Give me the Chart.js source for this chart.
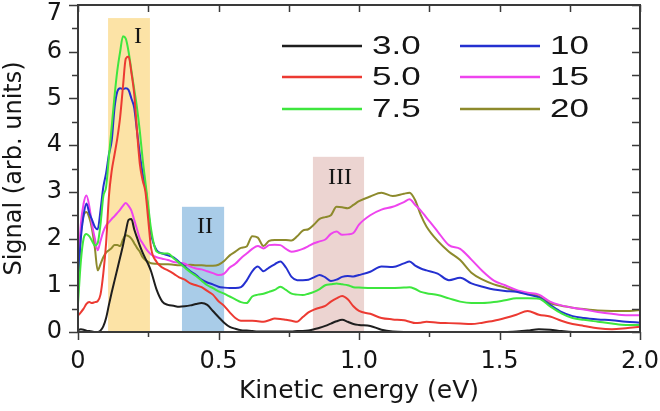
<!DOCTYPE html>
<html>
<head>
<meta charset="utf-8">
<script src="https://cdn.jsdelivr.net/npm/chart.js@4.4.1/dist/chart.umd.min.js"></script>
<style>
  html, body { margin: 0; padding: 0; background: #fff; }
</style>
</head>
<body>
<canvas id="chart" width="660" height="411"></canvas>
<script>
// Kinetic energy grid (eV), shared by all series
const energy = [
  0, 0.01, 0.02, 0.03, 0.04, 0.05, 0.06, 0.07, 0.08, 0.09,
  0.10, 0.11, 0.12, 0.13, 0.14, 0.15, 0.16, 0.17, 0.18, 0.19,
  0.20, 0.21, 0.22, 0.23, 0.24, 0.25, 0.26, 0.28, 0.30, 0.32,
  0.34, 0.36, 0.38, 0.40, 0.42, 0.44, 0.46, 0.48, 0.50, 0.52,
  0.54, 0.56, 0.58, 0.60, 0.62, 0.64, 0.66, 0.68, 0.70, 0.72,
  0.74, 0.76, 0.78, 0.80, 0.82, 0.84, 0.86, 0.88, 0.90, 0.92,
  0.94, 0.96, 0.98, 1.00, 1.04, 1.08, 1.12, 1.16, 1.18, 1.20,
  1.22, 1.24, 1.28, 1.32, 1.36, 1.40, 1.44, 1.48, 1.52, 1.56,
  1.60, 1.64, 1.68, 1.72, 1.76, 1.80, 1.85, 1.90, 1.95, 2.00
];

const seriesLabels = ['3.0', '5.0', '7.5', '10', '15', '20'];

const signal3 = [
  0.04, 0.06, 0.05, 0.03, 0.02, 0.01, 0.00, 0.00, 0.03, 0.12,
  0.30, 0.58, 0.85, 1.10, 1.35, 1.60, 1.85, 2.15, 2.40, 2.42,
  2.20, 2.02, 1.85, 1.70, 1.57, 1.45, 1.30, 0.90, 0.65, 0.58,
  0.56, 0.54, 0.55, 0.57, 0.60, 0.62, 0.58, 0.45, 0.32, 0.20,
  0.11, 0.07, 0.04, 0.03, 0.02, 0.01, 0.01, 0.01, 0.01, 0.01,
  0.01, 0.01, 0.02, 0.02, 0.03, 0.06, 0.09, 0.13, 0.18, 0.23,
  0.26, 0.22, 0.17, 0.15, 0.13, 0.05, 0.01, 0.00, 0.00, 0.00,
  0.00, 0.00, 0.00, 0.00, 0.00, 0.00, 0.00, 0.00, 0.00, 0.01,
  0.03, 0.06, 0.05, 0.02, 0.00, 0.00, 0.00, 0.00, 0.00, 0.00
];
const signal5 = [
  0.35, 0.42, 0.50, 0.60, 0.64, 0.62, 0.64, 0.66, 0.80, 1.25,
  1.90, 2.90, 3.45, 3.80, 4.15, 4.60, 5.25, 5.85, 5.90, 5.55,
  5.10, 4.30, 3.60, 3.25, 3.00, 2.40, 1.80, 1.50, 1.38, 1.32,
  1.25, 1.17, 1.12, 1.04, 1.00, 0.96, 0.88, 0.80, 0.66, 0.56,
  0.42, 0.30, 0.24, 0.24, 0.24, 0.23, 0.22, 0.25, 0.29, 0.28,
  0.26, 0.24, 0.22, 0.32, 0.42, 0.48, 0.52, 0.56, 0.65, 0.72,
  0.77, 0.70, 0.55, 0.45, 0.39, 0.30, 0.27, 0.25, 0.22, 0.19,
  0.20, 0.22, 0.20, 0.19, 0.18, 0.17, 0.20, 0.24, 0.30, 0.37,
  0.45, 0.37, 0.33, 0.24, 0.17, 0.13, 0.08, 0.06, 0.08, 0.11
];
const signal7_5 = [
  0.60, 1.50, 2.00, 2.10, 2.05, 1.95, 1.85, 1.90, 2.30, 2.90,
  3.10, 3.75, 4.40, 5.05, 5.60, 6.00, 6.33, 6.28, 6.00, 5.60,
  5.20, 4.80, 4.30, 3.70, 3.20, 2.70, 2.20, 1.72, 1.68, 1.68,
  1.58, 1.48, 1.38, 1.28, 1.20, 1.10, 1.00, 0.94, 0.87, 0.82,
  0.76, 0.70, 0.64, 0.62, 0.76, 0.80, 0.82, 0.86, 0.90, 0.97,
  0.90, 0.82, 0.80, 0.79, 0.82, 0.86, 0.92, 1.00, 1.02, 1.04,
  1.02, 1.00, 0.96, 0.95, 0.94, 0.94, 0.94, 0.95, 0.96, 0.92,
  0.86, 0.83, 0.79, 0.72, 0.65, 0.62, 0.62, 0.64, 0.68, 0.72,
  0.72, 0.71, 0.55, 0.40, 0.30, 0.26, 0.22, 0.18, 0.15, 0.15
];
const signal10 = [
  0.95, 2.00, 2.50, 2.75, 2.55, 2.40, 2.25, 2.20, 2.60, 3.10,
  3.40, 3.80, 4.10, 4.80, 5.15, 5.22, 5.20, 5.22, 5.18, 5.00,
  4.80, 4.30, 3.80, 3.40, 3.10, 2.60, 2.10, 1.75, 1.68, 1.64,
  1.60, 1.50, 1.40, 1.30, 1.22, 1.12, 1.06, 1.02, 0.97, 0.95,
  0.94, 0.94, 0.96, 1.10, 1.30, 1.40, 1.30, 1.38, 1.45, 1.51,
  1.38, 1.18, 1.11, 1.11, 1.12, 1.17, 1.22, 1.17, 1.09, 1.12,
  1.18, 1.20, 1.19, 1.22, 1.29, 1.40, 1.39, 1.47, 1.51, 1.42,
  1.36, 1.32, 1.25, 1.11, 1.16, 1.04, 0.97, 0.91, 0.88, 0.86,
  0.80, 0.74, 0.58, 0.43, 0.34, 0.30, 0.27, 0.25, 0.22, 0.20
];
const signal15 = [
  1.25, 2.30, 2.75, 2.92, 2.70, 2.30, 2.00, 1.75, 1.95, 2.15,
  2.28, 2.35, 2.42, 2.48, 2.55, 2.62, 2.70, 2.76, 2.70, 2.60,
  2.40, 2.20, 2.00, 1.90, 1.80, 1.72, 1.66, 1.60, 1.57, 1.54,
  1.50, 1.48, 1.46, 1.40, 1.36, 1.34, 1.30, 1.26, 1.22, 1.25,
  1.38, 1.46, 1.58, 1.68, 1.78, 1.84, 1.79, 1.86, 1.87, 1.86,
  1.78, 1.72, 1.74, 1.78, 1.84, 1.90, 1.94, 1.98, 2.10, 2.15,
  2.08, 2.09, 2.12, 2.30, 2.50, 2.62, 2.68, 2.78, 2.84, 2.72,
  2.60, 2.45, 2.15, 1.86, 1.78, 1.55, 1.30, 1.10, 1.00, 0.90,
  0.84, 0.80, 0.65, 0.57, 0.52, 0.48, 0.43, 0.39, 0.36, 0.36
];
const signal20 = [
  1.00, 2.10, 2.50, 2.57, 2.45, 2.20, 1.80, 1.32, 1.45, 1.60,
  1.70, 1.75, 1.80, 1.86, 1.86, 1.84, 1.98, 2.07, 2.05, 2.00,
  1.90, 1.80, 1.72, 1.60, 1.54, 1.50, 1.47, 1.46, 1.45, 1.45,
  1.44, 1.43, 1.43, 1.44, 1.43, 1.43, 1.42, 1.42, 1.44, 1.52,
  1.64, 1.72, 1.80, 1.83, 2.05, 2.02, 1.84, 1.95, 1.97, 1.97,
  1.97, 1.96, 2.05, 2.17, 2.20, 2.30, 2.42, 2.46, 2.50, 2.68,
  2.67, 2.65, 2.72, 2.80, 2.90, 2.98, 2.91, 2.96, 2.98, 2.82,
  2.50, 2.26, 1.95, 1.72, 1.54, 1.27, 1.12, 1.02, 0.95, 0.87,
  0.82, 0.76, 0.62, 0.56, 0.52, 0.49, 0.46, 0.45, 0.45, 0.47
];
const allSignals = [signal3, signal5, signal7_5, signal10, signal15, signal20];
const lineColors = ['#1e1e1e', '#ec3a32', '#3ee63e', '#2430d0', '#ee44ee', '#8d8a2c'];

// Shaded energy windows I, II, III
const regionNames = ['I', 'II', 'III'];
const regionStart = [0.107, 0.37, 0.836];
const regionEnd = [0.256, 0.52, 1.018];
const regionTop = [6.72, 2.68, 3.75];
const regionLabelX = [0.2135, 0.452, 0.932];
const regionLabelY = [6.33, 2.25, 3.3];
const regionColors = ['#fce3a6', '#a9cce8', '#ecd4d1'];

const textColor = '#151515';
const axisFont = { family: '"DejaVu Sans", sans-serif', size: 24 };

// Shaded boxes behind the curves, roman labels on top
const regionPlugin = {
    id: 'regions',
    beforeDatasetsDraw(chart) {
        const { ctx, scales: { x, y } } = chart;
        ctx.save();
        regionNames.forEach((name, i) => {
            const x0 = x.getPixelForValue(regionStart[i]);
            const x1 = x.getPixelForValue(regionEnd[i]);
            const y0 = y.getPixelForValue(regionTop[i]);
            const y1 = y.getPixelForValue(0);
            ctx.fillStyle = regionColors[i];
            ctx.fillRect(x0, y0, x1 - x0, y1 - y0);
        });
        ctx.restore();
    },
    afterDatasetsDraw(chart) {
        const { ctx, scales: { x, y } } = chart;
        ctx.save();
        ctx.fillStyle = textColor;
        ctx.font = '24px "Liberation Serif", serif';
        ctx.textAlign = 'center';
        ctx.textBaseline = 'middle';
        regionNames.forEach((name, i) => {
            ctx.fillText(name, x.getPixelForValue(regionLabelX[i]), y.getPixelForValue(regionLabelY[i]));
        });
        ctx.restore();
    }
};

// Box frame with outward ticks on left/bottom and inward ticks on top/right
const framePlugin = {
    id: 'frame',
    afterDraw(chart) {
        const { ctx, chartArea: a, scales: { x, y } } = chart;
        ctx.save();
        ctx.strokeStyle = '#3a3a3a';
        ctx.lineWidth = 2;
        ctx.strokeRect(a.left, a.top, a.right - a.left, a.bottom - a.top);
        ctx.lineWidth = 1.5;
        ctx.beginPath();
        for (let v = 0; v <= 2.0001; v += 0.25) {
            const px = Math.round(x.getPixelForValue(v)) + 0.5;
            const major = Math.abs(v * 2 - Math.round(v * 2)) < 1e-6;
            ctx.moveTo(px, a.bottom); ctx.lineTo(px, a.bottom + (major ? 8 : 5));
            ctx.moveTo(px, a.top); ctx.lineTo(px, a.top + 7);
        }
        for (let v = 0; v <= 7.0001; v += 0.5) {
            const py = Math.round(y.getPixelForValue(v)) + 0.5;
            const major = Math.abs(v - Math.round(v)) < 1e-6;
            ctx.moveTo(a.left, py); ctx.lineTo(a.left - (major ? 9 : 6), py);
            ctx.moveTo(a.right, py); ctx.lineTo(a.right - 8, py);
        }
        ctx.stroke();
        ctx.restore();
    }
};

// Two-column legend inside the plot, upper right
const cornerLegend = {
    id: 'cornerLegend',
    afterDraw(chart) {
        const c = chart.ctx;
        const rowY = [46, 77, 109];
        const colX = [282, 460];
        chart.data.datasets.forEach((ds, i) => {
            const x = colX[Math.floor(i / 3)];
            const yy = rowY[i % 3];
            c.save();
            c.strokeStyle = ds.borderColor;
            c.lineWidth = 2.5;
            c.beginPath();
            c.moveTo(x, yy);
            c.lineTo(x + 80, yy);
            c.stroke();
            c.translate(x + 90, yy);
            c.scale(1.4, 1);
            c.fillStyle = textColor;
            c.font = '25px "Liberation Sans", Arial, sans-serif';
            c.textBaseline = 'middle';
            c.fillText(ds.label, 0, 1);
            c.restore();
        });
    }
};

const datasets = seriesLabels.map((label, i) => ({
    label: label,
    data: energy.map((e, k) => ({ x: e, y: allSignals[i][k] })),
    borderColor: lineColors[i],
    borderWidth: 2,
    pointRadius: 0,
    fill: false,
    cubicInterpolationMode: 'monotone'
}));

new Chart(document.getElementById('chart'), {
    type: 'line',
    data: { datasets: datasets },
    options: {
        responsive: false,
        animation: false,
        layout: { padding: { top: 5, right: 20, left: 0, bottom: 0 } },
        plugins: {
            legend: { display: false },
            tooltip: { enabled: false }
        },
        scales: {
            x: {
                type: 'linear',
                min: 0,
                max: 2,
                grid: { display: false, drawTicks: false },
                border: { display: false },
                ticks: {
                    stepSize: 0.5,
                    autoSkip: false,
                    maxRotation: 0,
                    padding: 15,
                    color: textColor,
                    font: axisFont,
                    callback: v => (v === 0 ? '0' : v.toFixed(1))
                },
                title: {
                    display: true,
                    text: 'Kinetic energy (eV)',
                    color: textColor,
                    font: { family: axisFont.family, size: 25 },
                    padding: { top: 0, bottom: 5 }
                },
                afterFit: s => { s.height = 79; s.paddingLeft = 0; s.paddingRight = 0; }
            },
            y: {
                min: 0,
                max: 7,
                grid: { display: false, drawTicks: false },
                border: { display: false },
                ticks: {
                    stepSize: 1,
                    padding: 16,
                    color: textColor,
                    font: { family: axisFont.family, size: 24, lineHeight: 0.7 },
                    // top label nudged down so it stays inside the canvas
                    callback: v => (v === 7 ? ['', '7'] : String(v))
                },
                title: {
                    display: true,
                    text: 'Signal (arb. units)',
                    color: textColor,
                    font: axisFont,
                    padding: { top: 0, bottom: 0 }
                },
                afterFit: s => { s.width = 78; s.paddingTop = 0; s.paddingBottom = 0; }
            }
        }
    },
    plugins: [regionPlugin, framePlugin, cornerLegend]
});
</script>
</body>
</html>
